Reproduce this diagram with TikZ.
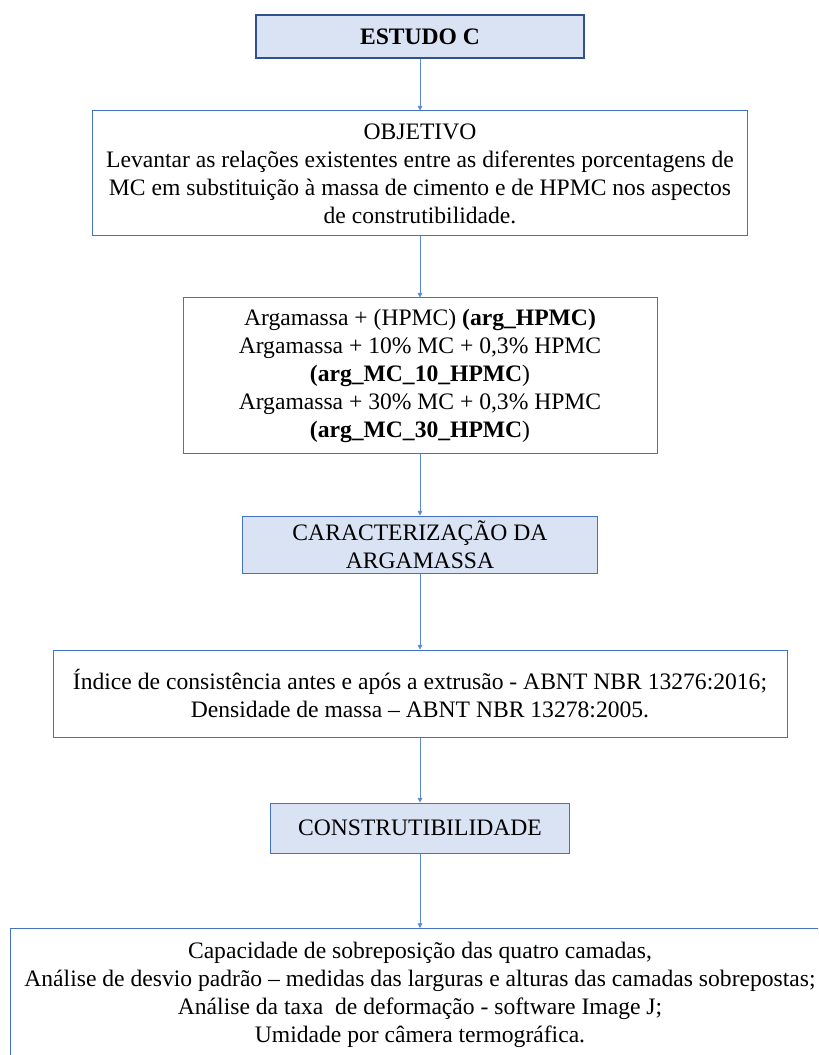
\documentclass[tikz,border=0pt]{standalone}
\usepackage{fontspec}
\setmainfont{Liberation Serif}
\usetikzlibrary{arrows.meta}
\definecolor{caixaborda}{HTML}{4472C4}
\definecolor{caixaforte}{HTML}{2F528F}
\definecolor{caixafundo}{HTML}{DAE3F3}
\definecolor{setac}{HTML}{5B8BD6}

\begin{document}
\begin{tikzpicture}[x=0.75pt, y=-0.75pt,
    caixa/.style={draw=caixaborda, line width=0.75pt, align=center, inner sep=0pt, font=\fontsize{17.7}{21}\selectfont},
    titulo/.style={caixa, fill=caixafundo},
    seta/.style={-{Triangle[length=3.5pt,width=3.5pt]}, setac, line width=0.5pt}]
    \useasboundingbox (0,0) rectangle (818,1055);
    \clip (0,0) rectangle (818,1055);
    % caixas do fluxograma
    \node[titulo, draw=caixaforte, line width=1.2pt, minimum width=246pt, minimum height=32.25pt, font=\fontsize{17.7}{21}\selectfont\bfseries] (estudo) at (420,36.5) {ESTUDO C};
    \node[caixa, minimum width=491.25pt, minimum height=93.75pt] (objetivo) at (420,173.5) {OBJETIVO\\Levantar as relações existentes entre as diferentes porcentagens de\\MC em substituição à massa de cimento e de HPMC nos aspectos\\de construtibilidade.};
    \node[caixa, minimum width=355.5pt, minimum height=116.25pt] (misturas) at (420,375.5) {Argamassa + (HPMC) \textbf{(arg\_HPMC)}\\Argamassa + 10\% MC + 0,3\% HPMC\\\textbf{(arg\_MC\_10\_HPMC})\\Argamassa + 30\% MC + 0,3\% HPMC\\\textbf{(arg\_MC\_30\_HPMC})};
    \node[titulo, minimum width=266.25pt, minimum height=42.75pt] (caract) at (420,544.5) {CARACTERIZAÇÃO DA\\ARGAMASSA};
    \node[caixa, minimum width=550.5pt, minimum height=65.25pt] (ensaios) at (420,693.5) {Índice de consistência antes e após a extrusão - ABNT NBR 13276:2016;\\Densidade de massa – ABNT NBR 13278:2005.};
    \node[titulo, minimum width=224.25pt, minimum height=37.5pt] (constr) at (420,828) {CONSTRUTIBILIDADE};
    \node[caixa, anchor=north, minimum width=615pt, inner ysep=10pt] (final) at (420,928) {Capacidade de sobreposição das quatro camadas,\\Análise de desvio padrão – medidas das larguras e alturas das camadas sobrepostas;\\Análise da taxa \ de deformação - software Image J;\\Umidade por câmera termográfica.\\[50pt]\mbox{}};
    % setas
    \draw[seta] (estudo) -- (objetivo);
    \draw[seta] (objetivo) -- (misturas);
    \draw[seta] (misturas) -- (caract);
    \draw[seta] (caract) -- (ensaios);
    \draw[seta] (ensaios) -- (constr);
    \draw[seta] (constr) -- (final);
\end{tikzpicture}
\end{document}
